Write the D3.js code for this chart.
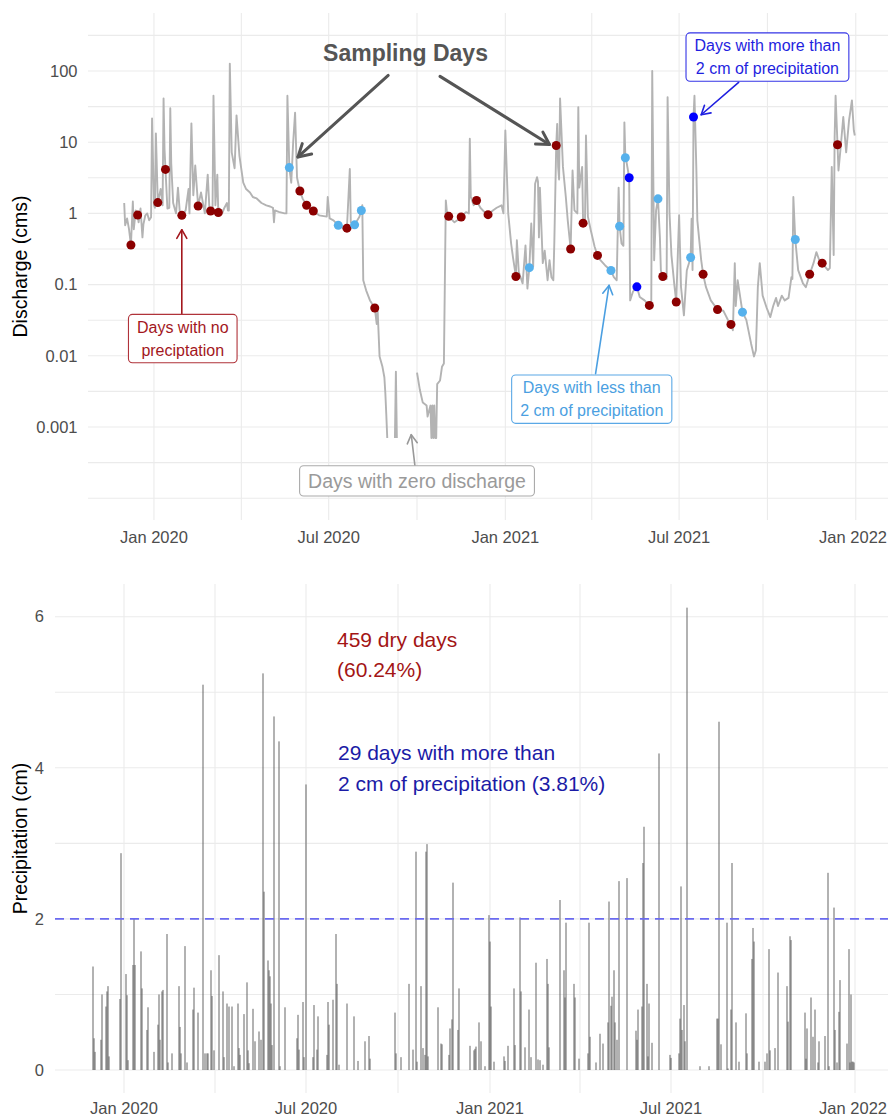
<!DOCTYPE html>
<html><head><meta charset="utf-8">
<script src="https://cdn.jsdelivr.net/npm/d3@7"></script>
<style>body{margin:0;background:#fff}svg{display:block}text{font-family:"Liberation Sans",Arial,sans-serif}</style>
</head><body><svg id="c" width="888" height="1118"></svg>
<script>
// ---------------- DATA ----------------
const discharge = [
["2019-12-01",1.4],["2019-12-02",0.68],["2019-12-04",0.85],["2019-12-06",0.6],["2019-12-08",0.36],["2019-12-10",1.47],["2019-12-11",0.6],["2019-12-13",1.1],["2019-12-15",0.95],["2019-12-16",0.75],["2019-12-18",1.17],["2019-12-20",0.46],["2019-12-21",0.7],["2019-12-23",0.94],["2019-12-25",1.0],["2019-12-27",0.8],["2019-12-29",0.88],["2019-12-30",21.6],
["2020-01-01",1.3],["2020-01-02",1.2],["2020-01-03",13.3],["2020-01-05",1.42],["2020-01-08",2.2],["2020-01-10",1.3],["2020-01-11",41],["2020-01-12",8],["2020-01-13",4.15],["2020-01-15",1.17],["2020-01-17",1.2],["2020-01-18",30],["2020-01-19",5],["2020-01-21",1.4],["2020-01-24",1.0],["2020-01-26",2.3],["2020-01-28",1.0],["2020-01-30",0.94],
["2020-02-03",1.1],["2020-02-06",2.2],["2020-02-07",1.0],["2020-02-09",18.4],["2020-02-11",1.8],["2020-02-13",4.7],["2020-02-16",1.27],["2020-02-19",1.97],["2020-02-23",1.0],["2020-02-26",3.5],["2020-02-28",1.0],["2020-02-29",1.08],
["2020-03-02",1.1],["2020-03-03",45],["2020-03-05",1.3],["2020-03-07",3.5],["2020-03-08",1.03],["2020-03-09",1.17],["2020-03-12",1.0],["2020-03-14",1.17],["2020-03-17",1.4],["2020-03-18",1.1],["2020-03-19",1.1],["2020-03-20",127],["2020-03-22",7.2],["2020-03-25",4.3],["2020-03-27",23.8],["2020-03-30",6.5],
["2020-04-03",2.7],["2020-04-06",2.2],["2020-04-10",1.97],["2020-04-13",1.7],["2020-04-17",1.62],["2020-04-22",1.4],["2020-04-27",1.3],
["2020-05-01",1.25],["2020-05-04",1.2],["2020-05-05",0.75],["2020-05-06",1.1],["2020-05-10",1.05],["2020-05-16",1.0],["2020-05-18",1.0],["2020-05-19",45],["2020-05-21",4.4],["2020-05-23",2.7],["2020-05-25",10],["2020-05-27",26],["2020-05-29",3.2],
["2020-06-01",2.06],["2020-06-04",1.6],["2020-06-08",1.3],["2020-06-15",1.08],["2020-06-21",0.94],["2020-06-29",0.9],["2020-06-30",1.7],
["2020-07-02",0.85],["2020-07-06",0.8],["2020-07-11",0.68],["2020-07-16",0.64],["2020-07-20",0.62],["2020-07-23",4.2],["2020-07-24",0.75],["2020-07-28",0.69],
["2020-08-02",0.9],["2020-08-04",1.1],["2020-08-05",1.3],["2020-08-06",0.115],["2020-08-09",0.083],["2020-08-13",0.06],["2020-08-18",0.047],["2020-08-20",0.028],["2020-08-21",0.043],["2020-08-23",0.0098],["2020-08-26",0.007],["2020-08-28",0.005],["2020-08-29",0.003],["2020-08-30",0.0015],["2020-08-31",0.0007],
["2020-09-01",null],["2020-09-07",null],["2020-09-08",0.0007],["2020-09-09",0.006],["2020-09-10",0.0007],["2020-09-11",null],["2020-09-30",null],
["2020-10-01",0.0058],["2020-10-04",0.0033],["2020-10-07",0.0022],["2020-10-11",0.002],["2020-10-12",0.0014],["2020-10-15",0.002],["2020-10-16",0.0007],["2020-10-17",0.002],["2020-10-18",0.0007],["2020-10-19",0.002],["2020-10-20",0.0007],["2020-10-21",0.0007],["2020-10-22",0.004],["2020-10-25",0.0045],["2020-10-27",0.007],["2020-10-29",0.0078],["2020-10-31",1.52],
["2020-11-01",1.1],["2020-11-03",0.91],["2020-11-09",0.75],["2020-11-12",0.8],["2020-11-16",0.89],["2020-11-21",1.04],["2020-11-24",1.0],["2020-11-25",11.2],["2020-11-26",1.7],["2020-11-29",1.3],
["2020-12-02",1.52],["2020-12-06",1.2],["2020-12-10",1.05],["2020-12-14",0.96],["2020-12-19",1.1],["2020-12-23",1.2],["2020-12-28",1.3],["2020-12-30",1.0],
["2021-01-01",14.6],["2021-01-04",1.0],["2021-01-07",0.38],["2021-01-09",0.24],["2021-01-12",0.13],["2021-01-13",0.42],["2021-01-15",0.15],["2021-01-19",0.104],["2021-01-22",0.355],["2021-01-24",0.088],["2021-01-26",0.173],["2021-01-28",0.72],["2021-01-30",0.18],
["2021-02-01",2.6],["2021-02-03",3.23],["2021-02-04",2.8],["2021-02-05",0.46],["2021-02-06",2.3],["2021-02-09",0.2],["2021-02-11",0.3],["2021-02-13",0.16],["2021-02-14",0.115],["2021-02-16",0.22],["2021-02-18",0.127],["2021-02-20",0.115],["2021-02-21",0.38],["2021-02-23",9.0],["2021-02-24",18.1],["2021-02-25",4.5],["2021-02-26",3.0],["2021-02-27",41],
["2021-03-02",4.5],["2021-03-05",1.7],["2021-03-07",0.8],["2021-03-10",0.316],["2021-03-12",4.0],["2021-03-14",1.1],["2021-03-17",1.0],["2021-03-18",31],["2021-03-19",2.3],["2021-03-22",4.5],["2021-03-23",0.73],["2021-03-25",0.8],["2021-03-26",12.4],["2021-03-28",0.9],["2021-03-31",0.58],
["2021-04-04",0.34],["2021-04-07",0.257],["2021-04-10",0.22],["2021-04-15",0.186],["2021-04-21",0.158],["2021-04-24",0.127],["2021-04-27",0.115],["2021-04-29",2.3],["2021-04-30",0.66],
["2021-05-02",0.38],["2021-05-04",0.35],["2021-05-05",19],["2021-05-06",6.05],["2021-05-07",5.5],["2021-05-10",3.17],["2021-05-11",0.06],["2021-05-14",0.08],["2021-05-18",0.093],["2021-05-21",0.067],["2021-05-26",0.06],["2021-05-31",0.051],
["2021-06-02",0.05],["2021-06-03",100],["2021-06-05",0.22],["2021-06-07",1.1],["2021-06-09",1.6],["2021-06-11",0.46],["2021-06-12",0.158],["2021-06-14",0.13],["2021-06-18",0.12],["2021-06-19",43],["2021-06-21",1.0],["2021-06-23",0.26],["2021-06-26",0.1],["2021-06-28",0.057],
["2021-07-01",0.94],["2021-07-03",0.092],["2021-07-06",0.037],["2021-07-09",0.158],["2021-07-13",0.24],["2021-07-14",0.84],["2021-07-15",0.16],["2021-07-16",22.6],["2021-07-17",45],["2021-07-19",4.0],["2021-07-20",0.8],["2021-07-24",0.22],["2021-07-26",0.14],["2021-07-29",0.092],
["2021-08-03",0.06],["2021-08-10",0.0446],["2021-08-16",0.043],["2021-08-21",0.0316],["2021-08-24",0.0276],["2021-08-26",0.0228],["2021-08-28",0.2],["2021-08-29",0.05],["2021-08-31",0.115],
["2021-09-05",0.041],["2021-09-09",0.032],["2021-09-14",0.0148],["2021-09-17",0.0098],["2021-09-19",0.012],["2021-09-21",0.092],["2021-09-23",0.2],["2021-09-26",0.07],["2021-09-30",0.048],
["2021-10-04",0.035],["2021-10-07",0.05],["2021-10-10",0.065],["2021-10-12",0.05],["2021-10-16",0.07],["2021-10-19",0.06],["2021-10-23",0.065],["2021-10-26",0.127],["2021-10-27",0.12],["2021-10-28",1.7],["2021-10-30",0.43],
["2021-11-02",0.16],["2021-11-07",0.104],["2021-11-10",0.092],["2021-11-14",0.14],["2021-11-18",0.2],["2021-11-21",0.286],["2021-11-24",0.22],["2021-11-27",0.2],
["2021-12-03",0.16],["2021-12-05",0.17],["2021-12-07",4.5],["2021-12-09",0.26],["2021-12-10",11.8],["2021-12-11",45],["2021-12-13",9.2],["2021-12-14",4.0],["2021-12-16",7.7],["2021-12-19",22.6],["2021-12-22",7.2],["2021-12-25",20.2],["2021-12-28",38.6],["2021-12-30",14.6],["2021-12-31",12.4]
];

const samplesNoPrecip = [["2019-12-08",0.36],["2019-12-15",0.95],["2020-01-05",1.42],["2020-01-13",4.15],["2020-01-30",0.94],["2020-02-16",1.27],["2020-02-29",1.08],["2020-03-08",1.03],["2020-06-01",2.06],["2020-06-08",1.3],["2020-06-15",1.08],["2020-07-20",0.62],["2020-08-18",0.047],["2020-11-03",0.91],["2020-11-16",0.89],["2020-12-02",1.52],["2020-12-14",0.96],["2021-01-12",0.13],["2021-02-23",9.0],["2021-03-10",0.316],["2021-03-23",0.73],["2021-04-07",0.257],["2021-05-31",0.051],["2021-06-14",0.13],["2021-06-28",0.057],["2021-07-26",0.14],["2021-08-10",0.0446],["2021-08-24",0.0276],["2021-11-14",0.14],["2021-11-27",0.2],["2021-12-13",9.2]];
const samplesUnder2cm = [["2020-05-21",4.4],["2020-07-11",0.68],["2020-07-28",0.69],["2020-08-04",1.1],["2021-01-26",0.173],["2021-04-21",0.158],["2021-04-30",0.66],["2021-05-06",6.05],["2021-06-09",1.6],["2021-07-13",0.24],["2021-09-05",0.041],["2021-10-30",0.43]];
const samplesOver2cm = [["2021-05-10",3.17],["2021-05-18",0.093],["2021-07-16",22.6]];

const precipitation = [
["2019-12-01",1.37],["2019-12-02",0.42],["2019-12-03",0.24],["2019-12-09",0.4],["2019-12-10",1.0],["2019-12-14",0.84],["2019-12-15",1.04],["2019-12-16",1.11],["2019-12-17",0.18],["2019-12-28",0.94],["2019-12-29",2.87],
["2020-01-03",1.27],["2020-01-04",0.99],["2020-01-05",0.13],["2020-01-10",1.39],["2020-01-11",2.0],["2020-01-12",1.39],["2020-01-18",1.57],["2020-01-19",1.08],["2020-01-24",0.53],["2020-01-25",0.83],["2020-01-31",0.24],
["2020-02-04",0.6],["2020-02-05",1.0],["2020-02-06",0.4],["2020-02-08",1.04],["2020-02-09",1.06],["2020-02-13",1.8],["2020-02-14",0.1],["2020-02-18",0.22],["2020-02-25",1.11],["2020-02-26",0.57],["2020-02-27",0.22],
["2020-03-02",1.64],["2020-03-04",0.1],["2020-03-10",0.8],["2020-03-11",1.09],["2020-03-15",0.76],["2020-03-20",5.1],["2020-03-22",0.22],["2020-03-24",0.22],["2020-03-25",0.22],["2020-03-28",1.32],["2020-03-29",0.98],["2020-03-31",0.26],
["2020-04-05",1.52],["2020-04-09",1.04],["2020-04-10",0.17],["2020-04-13",0.88],["2020-04-15",0.84],["2020-04-18",0.84],["2020-04-20",0.05],["2020-04-24",0.88],["2020-04-25",0.29],["2020-04-26",0.2],["2020-04-30",0.74],
["2020-05-03",1.16],["2020-05-04",0.26],["2020-05-05",0.09],["2020-05-09",0.81],["2020-05-11",0.38],["2020-05-15",0.51],["2020-05-17",0.4],["2020-05-19",5.25],["2020-05-20",2.36],["2020-05-24",1.45],["2020-05-25",1.32],["2020-05-26",1.24],["2020-05-27",0.88],["2020-05-28",0.33],["2020-05-30",4.68],
["2020-06-04",4.35],["2020-06-05",0.05],["2020-06-10",0.83],["2020-06-22",0.42],["2020-06-23",0.73],["2020-06-24",0.27],["2020-06-28",0.9],["2020-06-29",0.17],
["2020-07-01",3.78],["2020-07-08",0.17],["2020-07-09",0.86],["2020-07-12",0.27],["2020-07-13",0.71],["2020-07-22",0.2],["2020-07-23",0.9],["2020-07-24",0.6],["2020-07-28",0.93],["2020-07-31",1.8],
["2020-08-01",1.14],["2020-08-03",0.07],["2020-08-11",0.88],["2020-08-18",0.71],["2020-08-22",0.12],["2020-08-29",0.38],["2020-09-02",0.45],["2020-09-03",0.15],["2020-09-28",0.76],["2020-09-29",0.22],
["2020-10-04",0.17],["2020-10-12",1.14],["2020-10-16",0.27],["2020-10-19",2.89],["2020-10-20",0.11],["2020-10-24",1.11],["2020-10-26",0.29],["2020-10-28",0.2],["2020-10-29",2.89],["2020-10-30",2.99],["2020-10-31",0.18],
["2020-11-10",0.83],["2020-11-13",0.35],["2020-11-14",0.34],["2020-11-21",0.2],["2020-11-22",0.55],["2020-11-24",0.67],["2020-11-25",2.48],["2020-11-30",0.53],
["2020-12-01",1.08],["2020-12-12",0.32],["2020-12-16",0.26],["2020-12-17",0.28],["2020-12-18",0.31],["2020-12-21",0.63],["2020-12-23",0.38],["2020-12-27",0.05],["2020-12-31",2.05],
["2021-01-01",1.7],["2021-01-02",0.84],["2021-01-05",0.11],["2021-01-15",0.18],["2021-01-16",0.12],["2021-01-19",0.32],["2021-01-25",1.08],["2021-01-26",0.33],["2021-01-31",2.02],
["2021-02-01",1.04],["2021-02-05",0.3],["2021-02-09",0.8],["2021-02-11",0.17],["2021-02-16",1.42],["2021-02-18",0.14],["2021-02-20",0.13],["2021-02-23",0.07],["2021-02-27",1.47],["2021-02-28",1.14],
["2021-03-01",0.3],["2021-03-12",2.25],["2021-03-16",1.32],["2021-03-17",0.96],["2021-03-18",1.95],["2021-03-26",1.14],["2021-03-27",0.96],["2021-03-31",0.15],
["2021-04-09",0.22],["2021-04-10",1.95],["2021-04-11",0.44],["2021-04-17",0.1],["2021-04-21",0.48],["2021-04-24",0.35],["2021-04-29",0.63],["2021-04-30",2.23],
["2021-05-02",0.85],["2021-05-03",0.97],["2021-05-05",1.32],["2021-05-06",0.63],["2021-05-08",0.4],["2021-05-10",2.5],["2021-05-18",2.54],["2021-05-27",0.52],["2021-05-28",0.4],["2021-05-29",0.8],
["2021-06-02",0.84],["2021-06-03",2.74],["2021-06-04",3.22],["2021-06-07",1.14],["2021-06-08",0.18],["2021-06-09",0.88],["2021-06-12",0.36],["2021-06-19",4.19],["2021-06-30",0.2],
["2021-07-01",0.16],["2021-07-09",0.22],["2021-07-10",0.68],["2021-07-11",2.43],["2021-07-12",0.53],["2021-07-14",0.86],["2021-07-15",0.38],["2021-07-17",6.12],["2021-07-30",0.05],
["2021-08-08",0.05],["2021-08-16",0.68],["2021-08-17",0.68],["2021-08-18",4.61],["2021-08-20",0.34],["2021-08-26",1.95],["2021-08-27",0.02],["2021-08-30",0.8],["2021-08-31",2.74],
["2021-09-04",0.63],["2021-09-07",0.11],["2021-09-14",0.75],["2021-09-15",0.22],["2021-09-20",1.47],["2021-09-21",1.88],["2021-09-22",1.7],["2021-09-27",0.11],
["2021-10-03",0.11],["2021-10-05",0.22],["2021-10-07",1.6],["2021-10-08",0.26],["2021-10-13",0.29],["2021-10-16",1.29],["2021-10-25",1.11],["2021-10-26",0.64],["2021-10-28",1.77],["2021-10-29",1.72],
["2021-11-12",0.76],["2021-11-13",0.15],["2021-11-14",0.55],["2021-11-18",0.96],["2021-11-20",0.44],["2021-11-22",0.8],["2021-11-25",0.1],["2021-11-26",0.38],
["2021-12-02",0.45],["2021-12-05",2.61],["2021-12-06",0.05],["2021-12-11",2.15],["2021-12-12",0.53],["2021-12-14",0.1],["2021-12-16",0.77],["2021-12-17",1.19],["2021-12-24",0.35],["2021-12-26",1.6],["2021-12-27",0.1],["2021-12-28",1.0],["2021-12-29",0.11],["2021-12-30",0.11],["2021-12-31",0.1]
];

const precipThreshold = 2;
const xTickDates = ["2020-01-01","2020-07-01","2021-01-01","2021-07-01","2022-01-01"];
const topYTicks = [0.001,0.01,0.1,1,10,100];
const topYTickLabels = ["0.001","0.01","0.1","1","10","100"];
const botYTicks = [0,2,4,6];
const botYTickLabels = ["0","2","4","6"];

// ---------------- DRAW ----------------
const parse = d3.utcParse("%Y-%m-%d");
const fmt = d3.utcFormat("%b %Y");
const svg = d3.select("#c");
const GRID = "#ebebeb", TICK = "#4d4d4d";

const topP = {l:88, r:891, t:13, b:520};
const botP = {l:55, r:892, t:584, b:1093};
const xT = d3.scaleUtc().domain([parse("2019-12-01"), parse("2021-12-31")]).range([124.2, 854.8]);
const yT = d3.scaleLog().domain([1e-3, 1e2]).range([427, 71]);
const xB = d3.scaleUtc().domain([parse("2019-12-01"), parse("2021-12-31")]).range([93, 854]);
const yB = d3.scaleLinear().domain([0, 6]).range([1070, 616.7]);

function grid(P, xs, ys){
  const g = svg.append("g");
  const qs = d3.utcMonth.every(3).range(parse("2019-07-01"), parse("2022-07-01")).map(xs).filter(x=>x>=P.l&&x<=P.r);
  g.selectAll(".v").data(qs).join("line").attr("x1",d=>d).attr("x2",d=>d).attr("y1",P.t).attr("y2",P.b).attr("stroke",GRID).attr("stroke-width",1.1);
  g.selectAll(".h").data(ys).join("line").attr("x1",P.l).attr("x2",P.r).attr("y1",d=>d).attr("y2",d=>d).attr("stroke",GRID).attr("stroke-width",1.1);
}
const halfDec = d3.range(-8, 6).map(k => Math.pow(10, k/2)).map(yT).filter(y => y>=topP.t && y<=topP.b);
grid(topP, xT, halfDec);
grid(botP, xB, d3.range(0, 7).map(yB));

// axis labels (kept inside the 888px frame)
function xLabels(xs, y){
  svg.append("g").selectAll("text").data(xTickDates).join("text")
    .attr("x", d=>xs(parse(d))).attr("y", y).attr("dy","0.35em").attr("text-anchor","middle")
    .attr("font-size",16.5).attr("fill",TICK).text(d=>fmt(parse(d)))
    .each(function(){
      const w = this.getComputedTextLength(), x = +this.getAttribute("x");
      if (x + w/2 > 887) this.setAttribute("x", 887 - w/2);
    });
}
xLabels(xT, 537); xLabels(xB, 1108);
svg.append("g").selectAll("text").data(topYTicks).join("text").attr("x",77.5).attr("y",d=>yT(d)).attr("dy","0.35em")
  .attr("text-anchor","end").attr("font-size",16.5).attr("fill",TICK).text((d,i)=>topYTickLabels[i]);
svg.append("g").selectAll("text").data(botYTicks).join("text").attr("x",44).attr("y",d=>yB(d)).attr("dy","0.35em")
  .attr("text-anchor","end").attr("font-size",16.5).attr("fill",TICK).text((d,i)=>botYTickLabels[i]);
svg.append("text").attr("transform",`translate(20,${(topP.t+topP.b)/2}) rotate(-90)`).attr("dy","0.35em").attr("text-anchor","middle").attr("font-size",19.5).attr("fill","#000").text("Discharge (cms)");
svg.append("text").attr("transform",`translate(20,${(botP.t+botP.b)/2}) rotate(-90)`).attr("dy","0.35em").attr("text-anchor","middle").attr("font-size",19.5).attr("fill","#000").text("Precipitation (cm)");

// discharge line
const line = d3.line().defined(d=>d[1]!=null).x(d=>xT(parse(d[0]))).y(d=>yT(d[1]));
svg.append("path").datum(discharge).attr("d",line).attr("fill","none").attr("stroke","#b3b3b3").attr("stroke-width",1.9).attr("stroke-linejoin","round");

// sampling dots
function dots(data, color){
  svg.append("g").selectAll("circle").data(data).join("circle")
    .attr("cx",d=>xT(parse(d[0]))).attr("cy",d=>yT(d[1])).attr("r",4.5).attr("fill",color);
}
dots(samplesNoPrecip, "#8b0000");
dots(samplesUnder2cm, "#56b1ec");
dots(samplesOver2cm, "#0000ff");

// precipitation bars
svg.append("g").selectAll("rect").data(precipitation).join("rect")
  .attr("x",d=>xB(parse(d[0]))-0.45).attr("width",0.9)
  .attr("y",d=>yB(d[1])).attr("height",d=>yB(0)-yB(d[1])).attr("fill","#555");
svg.append("line").attr("x1",botP.l).attr("x2",botP.r).attr("y1",yB(precipThreshold)).attr("y2",yB(precipThreshold))
  .attr("stroke","#6a6af0").attr("stroke-width",1.8).attr("stroke-dasharray","9,6");

// annotations (data coordinates)
function P(d, v){ return [xT(parse(d)), yT(v)]; }
function arrow(a, b, color, w, hl){
  const g = svg.append("g").attr("stroke",color).attr("stroke-width",w).attr("fill","none").attr("stroke-linecap","round");
  g.append("line").attr("x1",a[0]).attr("y1",a[1]).attr("x2",b[0]).attr("y2",b[1]);
  const ang = Math.atan2(a[1]-b[1], a[0]-b[0]);
  const p1 = [b[0]+hl*Math.cos(ang+Math.PI/6), b[1]+hl*Math.sin(ang+Math.PI/6)];
  const p2 = [b[0]+hl*Math.cos(ang-Math.PI/6), b[1]+hl*Math.sin(ang-Math.PI/6)];
  g.append("path").attr("d",`M${p1}L${b}L${p2}`).attr("stroke-linejoin","round");
}
function label(c, lines, color, fs, box){
  const g = svg.append("g");
  const lh = fs*1.45;
  const ts = lines.map((s,i)=>g.append("text").attr("x",c[0]).attr("y",c[1]+(i-(lines.length-1)/2)*lh).attr("dy","0.35em")
     .attr("text-anchor","middle").attr("font-size",fs).attr("fill",color).text(s));
  const w = d3.max(ts, t=>t.node().getComputedTextLength()) + 17;
  const h = lines.length*lh + 2;
  g.insert("rect","text").attr("x",c[0]-w/2).attr("y",c[1]-h/2).attr("width",w).attr("height",h).attr("rx",4)
    .attr("fill","#fff").attr("stroke",box).attr("stroke-width",1.1);
}
arrow(P("2020-09-01",86.7), P("2020-05-30",6.2), "#555", 3, 14);
arrow(P("2020-10-25",84), P("2021-02-16",9.3), "#555", 3, 14);
svg.append("text").attr("x",P("2020-09-19",136)[0]).attr("y",P("2020-09-19",136)[1]).attr("text-anchor","middle")
  .attr("font-size",23).attr("font-weight","bold").attr("fill","#555").text("Sampling Days");

arrow(P("2021-09-01",69.2), P("2021-07-24",24.3), "#1f1fe0", 1.6, 10);
label(P("2021-10-01",156.8), ["Days with more than","2 cm of precipitation"], "#1f1fe0", 16, "#3434e6");

arrow(P("2020-01-30",0.039), P("2020-01-30",0.59), "#a3171d", 1.6, 10);
label(P("2020-01-31",0.01745), ["Days with no","preciptation"], "#a3171d", 16, "#b0333a");

arrow(P("2021-04-05",0.00561), P("2021-04-19",0.0975), "#4b9fe1", 1.6, 10);
label(P("2021-04-01",0.00246), ["Days with less than","2 cm of precipitation"], "#4b9fe1", 16, "#5aa8e6");

arrow(P("2020-09-29",0.000273), P("2020-09-25",0.00078), "#999", 1.6, 10);
label(P("2020-10-01",0.000175), ["Days with zero discharge"], "#9a9a9a", 19.5, "#aaa");

// precipitation texts
function B(d, v){ return [xB(parse(d)), yB(v)]; }
function textLines(pos, lines, color){
  const t = svg.append("text").attr("x",pos[0]).attr("y",pos[1]).attr("font-size",21).attr("fill",color);
  lines.forEach((s,i)=>t.append("tspan").attr("x",pos[0]).attr("dy", i? 30.5 : 0).text(s));
}
textLines(B("2020-08-01",5.6), ["459 dry days","(60.24%)"], "#a31515");
textLines(B("2020-08-02",4.1), ["29 days with more than","2 cm of precipitation (3.81%)"], "#1b1ba6");
</script></body></html>
